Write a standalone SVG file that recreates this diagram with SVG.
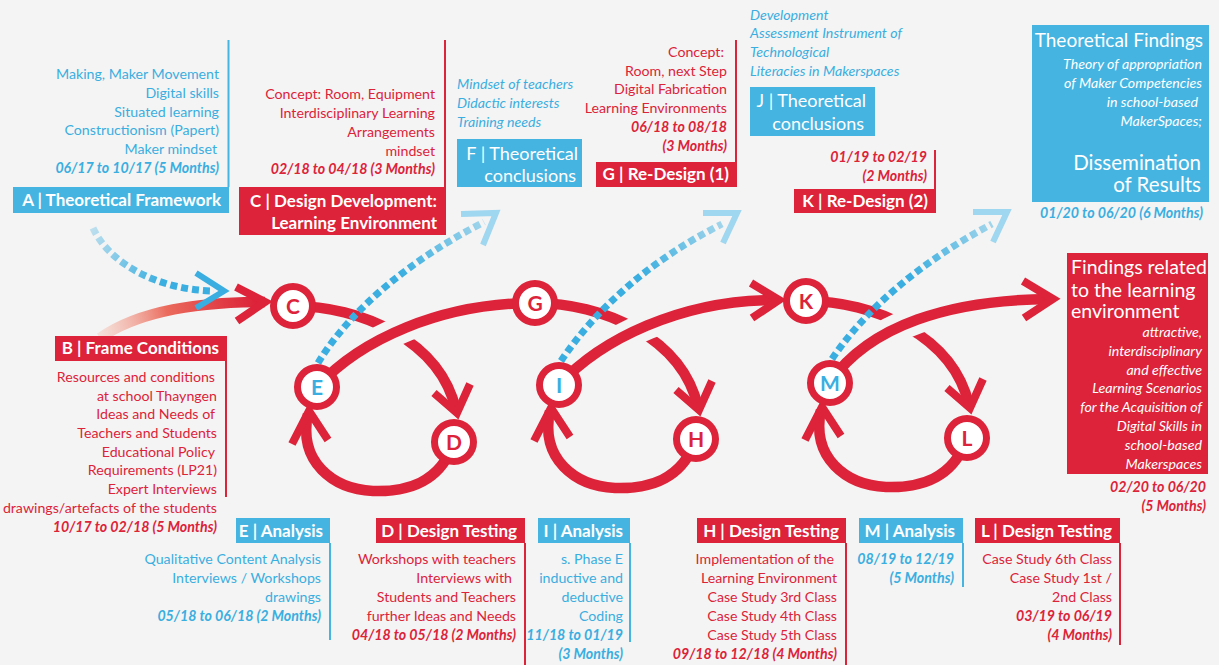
<svg xmlns="http://www.w3.org/2000/svg" width="1219" height="665" viewBox="0 0 1219 665">
  <defs>
    <style>
      text { font-family: Lato, "Open Sans", sans-serif; font-size: 14.2px; }
      .b { fill: #3aaee0; }
      .r { fill: #dc2339; }
      .i { font-style: italic; }
      .d { font-style: italic; font-weight: 700; }
      .e { text-anchor: end; }
      .hb { font-weight: 700; font-size: 17px; fill: #fff; }
      .hr { font-size: 18px; fill: #fff; }
      .w { fill: #fff; }
      .boxb { fill: #45b4e1; }
      .boxr { fill: #dc2339; }
      .vb { stroke: #45b4e1; stroke-width: 2; fill: none; }
      .vr { stroke: #dc2339; stroke-width: 2; fill: none; }
      .band { stroke: #dc2339; stroke-width: 10.5; fill: none; }
      .gap { stroke: #f4f4f4; stroke-width: 28; fill: none; }
      .chev { stroke: #dc2339; stroke-width: 8; fill: none; stroke-linejoin: miter; }
      .dots { stroke-width: 7; stroke-dasharray: 7 4; fill: none; }
      .bchev { stroke: #3aaee0; stroke-width: 6; fill: none; }
      .lchev { stroke: #9fd6f0; stroke-width: 6; fill: none; }
      .ring { fill: #fff; stroke: #dc2339; stroke-width: 7; }
      .lt { font-size: 21px; font-weight: 700; text-anchor: middle; }
    </style>
    <linearGradient id="fadeB" gradientUnits="userSpaceOnUse" x1="100" y1="338" x2="255" y2="302">
      <stop offset="0" stop-color="#f6c4b4" stop-opacity="0.4"/>
      <stop offset="0.45" stop-color="#ea6a5c"/>
      <stop offset="1" stop-color="#dc2339"/>
    </linearGradient>
    <linearGradient id="fadeA" gradientUnits="userSpaceOnUse" x1="93" y1="228" x2="160" y2="285">
      <stop offset="0" stop-color="#3aaee0" stop-opacity="0.3"/>
      <stop offset="1" stop-color="#3aaee0"/>
    </linearGradient>
    <linearGradient id="fadeE" gradientUnits="userSpaceOnUse" x1="318" y1="363" x2="484" y2="222">
      <stop offset="0" stop-color="#3aaee0"/>
      <stop offset="0.55" stop-color="#3aaee0"/>
      <stop offset="1" stop-color="#3aaee0" stop-opacity="0.45"/>
    </linearGradient>
    <linearGradient id="fadeI" gradientUnits="userSpaceOnUse" x1="561" y1="361" x2="722" y2="224">
      <stop offset="0" stop-color="#3aaee0"/>
      <stop offset="0.55" stop-color="#3aaee0"/>
      <stop offset="1" stop-color="#3aaee0" stop-opacity="0.45"/>
    </linearGradient>
    <linearGradient id="fadeM" gradientUnits="userSpaceOnUse" x1="832" y1="359" x2="992" y2="224">
      <stop offset="0" stop-color="#3aaee0"/>
      <stop offset="0.55" stop-color="#3aaee0"/>
      <stop offset="1" stop-color="#3aaee0" stop-opacity="0.45"/>
    </linearGradient>
  </defs>

  <rect width="1219" height="665" fill="#f4f4f4"/>

  <!-- connectors: red process loops and blue feedback arrows -->
  <g id="connectors">
    <!-- B into C -->
    <path d="M100 338 C140 310 200 302 265 302" stroke="url(#fadeB)" stroke-width="10.5" fill="none"/>
    <polyline class="chev" points="236,287 265,302 237,321"/>

    <!-- cycle 1: C -> D -> E -> G -->
    <path class="band" d="M293 306 C360 306 440 340 456 410"/>
    <polyline class="chev" points="434,393 457,413 470,384"/>
    <path class="band" d="M454 442 C440 484 405 492 373 491 C333 489 298 462 308 414"/>
    <polyline class="chev" points="292,444 309,411 328,440"/>
    <path class="gap" d="M317 387 C360 340 440 303 535 303"/>
    <path class="band" d="M317 387 C360 340 440 303 535 303"/>

    <!-- cycle 2: G -> H -> I -> K -->
    <path class="band" d="M535 303 C602 303 682 337 698 407"/>
    <polyline class="chev" points="676,390 699,410 712,381"/>
    <path class="band" d="M696 439 C682 481 647 489 615 488 C575 486 540 459 550 411"/>
    <polyline class="chev" points="534,441 551,408 570,437"/>
    <path class="gap" d="M559 385 C600 340 680 300 779 300"/>
    <path class="band" d="M559 385 C600 340 680 300 775 300"/>
    <polyline class="chev" points="751,283 779,300 752,318"/>

    <!-- cycle 3: K -> L -> M -> findings -->
    <path class="band" d="M806 301 C873 301 953 335 969 405"/>
    <polyline class="chev" points="947,388 970,408 983,379"/>
    <path class="band" d="M967 438 C953 480 918 488 886 487 C846 485 811 458 821 410"/>
    <polyline class="chev" points="805,440 822,407 841,436"/>
    <path class="gap" d="M830 382 C870 325 950 300 1053 299"/>
    <path class="band" d="M830 382 C870 325 950 300 1049 299"/>
    <polyline class="chev" points="1023,281 1053,299 1024,318"/>

    <!-- A into C (dashed) -->
    <path class="dots" stroke="url(#fadeA)" d="M93 228 C110 265 160 290 214 291"/>
    <polyline class="bchev" points="196,273 224,291 196,308"/>

    <!-- analysis feedback to theory (dashed, fading upwards) -->
    <path class="dots" stroke="url(#fadeE)" d="M318 363 C350 310 410 260 484 222"/>
    <polyline class="lchev" points="461,214 496,213 483,245"/>
    <path class="dots" stroke="url(#fadeI)" d="M561 361 C595 310 650 260 722 224"/>
    <polyline class="lchev" points="703,213 737,213 723,243"/>
    <path class="dots" stroke="url(#fadeM)" d="M832 359 C865 310 920 262 992 224"/>
    <polyline class="lchev" points="973,212 1007,212 993,242"/>
  </g>

  <!-- phase circles -->
  <g id="node-C"><circle class="ring" cx="293" cy="306" r="19.5"/><text class="lt r" x="293" y="314">C</text></g>
  <g id="node-G"><circle class="ring" cx="535" cy="303" r="19.5"/><text class="lt r" x="535" y="311">G</text></g>
  <g id="node-K"><circle class="ring" cx="806" cy="301" r="19.5"/><text class="lt r" x="806" y="309">K</text></g>
  <g id="node-D"><circle class="ring" cx="454" cy="442" r="19.5"/><text class="lt r" x="454" y="450">D</text></g>
  <g id="node-H"><circle class="ring" cx="696" cy="439" r="19.5"/><text class="lt r" x="696" y="447">H</text></g>
  <g id="node-L"><circle class="ring" cx="967" cy="438" r="19.5"/><text class="lt r" x="967" y="446">L</text></g>
  <g id="node-E"><circle class="ring" cx="317" cy="387" r="19.5"/><text class="lt b" x="317" y="395">E</text></g>
  <g id="node-I"><circle class="ring" cx="559" cy="385" r="19.5"/><text class="lt b" x="559" y="393">I</text></g>
  <g id="node-M"><circle class="ring" cx="830" cy="383" r="19.5"/><text class="lt b" x="830" y="391">M</text></g>

  <!-- A: theoretical framework -->
  <g id="phase-A">
    <line class="vb" x1="228.5" y1="40" x2="228.5" y2="187"/>
    <text class="b e" x="219" y="79">Making, Maker Movement</text>
    <text class="b e" x="219" y="98">Digital skills</text>
    <text class="b e" x="219" y="117">Situated learning</text>
    <text class="b e" x="219" y="135">Constructionism (Papert)</text>
    <text class="b e" x="217" y="154">Maker mindset</text>
    <text class="b d e" x="219" y="173">06/17 to 10/17 (5 Months)</text>
    <rect class="boxb" x="13" y="187" width="216" height="26"/>
    <text class="hb e" x="221" y="206">A | Theoretical Framework</text>
  </g>

  <!-- C: design development -->
  <g id="phase-C">
    <line class="vr" x1="445" y1="40" x2="445" y2="187"/>
    <text class="r e" x="435" y="99">Concept: Room, Equipment</text>
    <text class="r e" x="435" y="118">Interdisciplinary Learning</text>
    <text class="r e" x="435" y="137">Arrangements</text>
    <text class="r e" x="435" y="156">mindset</text>
    <text class="r d e" x="435" y="174">02/18 to 04/18 (3 Months)</text>
    <rect class="boxr" x="239" y="187" width="207" height="48"/>
    <text class="hb e" x="437" y="207">C | Design Development:</text>
    <text class="hb e" x="437" y="229">Learning Environment</text>
  </g>

  <!-- F: theoretical conclusions -->
  <g id="phase-F">
    <text class="b i" x="457" y="89">Mindset of teachers</text>
    <text class="b i" x="457" y="108">Didactic interests</text>
    <text class="b i" x="457" y="127">Training needs</text>
    <rect class="boxb" x="457" y="139" width="125" height="48"/>
    <text class="hr e" x="578" y="160">F | Theoretical</text>
    <text class="hr e" x="576" y="182">conclusions</text>
  </g>

  <!-- G: re-design 1 -->
  <g id="phase-G">
    <line class="vr" x1="736" y1="40" x2="736" y2="162"/>
    <text class="r e" x="724" y="57">Concept:</text>
    <text class="r e" x="727" y="76">Room, next Step</text>
    <text class="r e" x="727" y="94">Digital Fabrication</text>
    <text class="r e" x="727" y="113">Learning Environments</text>
    <text class="r d e" x="727" y="132">06/18 to 08/18</text>
    <text class="r d e" x="727" y="151">(3 Months)</text>
    <rect class="boxr" x="596" y="162" width="141" height="25"/>
    <text class="hb e" x="729" y="180">G | Re-Design (1)</text>
  </g>

  <!-- J: theoretical conclusions -->
  <g id="phase-J">
    <text class="b i" x="750" y="20">Development</text>
    <text class="b i" x="750" y="38">Assessment Instrument of</text>
    <text class="b i" x="750" y="57">Technological</text>
    <text class="b i" x="750" y="76">Literacies in Makerspaces</text>
    <rect class="boxb" x="750" y="87" width="125" height="49"/>
    <text class="hr e" x="866" y="107">J | Theoretical</text>
    <text class="hr e" x="864" y="130">conclusions</text>
  </g>

  <!-- K: re-design 2 -->
  <g id="phase-K">
    <line class="vr" x1="935" y1="150" x2="935" y2="189"/>
    <text class="r d e" x="927" y="162">01/19 to 02/19</text>
    <text class="r d e" x="927" y="181">(2 Months)</text>
    <rect class="boxr" x="794" y="189" width="142" height="24"/>
    <text class="hb e" x="928" y="207">K | Re-Design (2)</text>
  </g>

  <!-- theoretical findings and dissemination -->
  <g id="phase-findings-theory">
    <rect class="boxb" x="1032" y="25" width="177" height="177"/>
    <text class="w e" x="1203" y="47" style="font-size:19px">Theoretical Findings</text>
    <text class="w i e" x="1202" y="69">Theory of appropriation</text>
    <text class="w i e" x="1202" y="88">of Maker Competencies</text>
    <text class="w i e" x="1198" y="107">in school-based</text>
    <text class="w i e" x="1202" y="126">MakerSpaces;</text>
    <text class="w e" x="1201" y="170" style="font-size:20.5px">Dissemination</text>
    <text class="w e" x="1201" y="192" style="font-size:20.5px">of Results</text>
    <text class="b d e" x="1203" y="218">01/20 to 06/20 (6 Months)</text>
  </g>

  <!-- findings related to the learning environment -->
  <g id="phase-findings-environment">
    <rect class="boxr" x="1067" y="253" width="141" height="221"/>
    <text class="w" x="1071" y="274" style="font-size:19.5px">Findings related</text>
    <text class="w" x="1071" y="297" style="font-size:19.5px">to the learning</text>
    <text class="w" x="1071" y="318" style="font-size:19.5px">environment</text>
    <text class="w i e" x="1202" y="337">attractive,</text>
    <text class="w i e" x="1202" y="356">interdisciplinary</text>
    <text class="w i e" x="1202" y="375">and effective</text>
    <text class="w i e" x="1202" y="393">Learning Scenarios</text>
    <text class="w i e" x="1202" y="412">for the Acquisition of</text>
    <text class="w i e" x="1202" y="431">Digital Skills in</text>
    <text class="w i e" x="1202" y="450">school-based</text>
    <text class="w i e" x="1202" y="469">Makerspaces</text>
    <text class="r d e" x="1206" y="492">02/20 to 06/20</text>
    <text class="r d e" x="1206" y="511">(5 Months)</text>
  </g>

  <!-- B: frame conditions -->
  <g id="phase-B">
    <rect class="boxr" x="55" y="336" width="172" height="25"/>
    <text class="hb e" x="219" y="354">B | Frame Conditions</text>
    <line class="vr" x1="226" y1="361" x2="226" y2="497"/>
    <text class="r e" x="215" y="382">Resources and conditions</text>
    <text class="r e" x="217" y="401">at school Thayngen</text>
    <text class="r e" x="215" y="419">Ideas and Needs of</text>
    <text class="r e" x="217" y="438">Teachers and Students</text>
    <text class="r e" x="215" y="457">Educational Policy</text>
    <text class="r e" x="217" y="475">Requirements (LP21)</text>
    <text class="r e" x="217" y="494">Expert Interviews</text>
    <text class="r e" x="217" y="513">drawings/artefacts of the students</text>
    <text class="r d e" x="217" y="532">10/17 to 02/18 (5 Months)</text>
  </g>

  <!-- E: analysis -->
  <g id="phase-E">
    <rect class="boxb" x="236" y="518" width="94" height="25"/>
    <text class="hb e" x="323" y="537">E | Analysis</text>
    <line class="vb" x1="330" y1="543" x2="330" y2="640"/>
    <text class="b e" x="321" y="564">Qualitative Content Analysis</text>
    <text class="b e" x="321" y="583">Interviews / Workshops</text>
    <text class="b e" x="321" y="602">drawings</text>
    <text class="b d e" x="321" y="621">05/18 to 06/18 (2 Months)</text>
  </g>

  <!-- D: design testing -->
  <g id="phase-D">
    <rect class="boxr" x="376" y="518" width="149" height="25"/>
    <text class="hb e" x="517" y="537">D | Design Testing</text>
    <line class="vr" x1="525" y1="543" x2="525" y2="665"/>
    <text class="r e" x="516" y="564">Workshops with teachers</text>
    <text class="r e" x="512" y="583">Interviews with</text>
    <text class="r e" x="516" y="602">Students and Teachers</text>
    <text class="r e" x="516" y="621">further Ideas and Needs</text>
    <text class="r d e" x="516" y="640">04/18 to 05/18 (2 Months)</text>
  </g>

  <!-- I: analysis -->
  <g id="phase-I">
    <rect class="boxb" x="538" y="518" width="92" height="25"/>
    <text class="hb e" x="623" y="537">I | Analysis</text>
    <line class="vb" x1="630" y1="543" x2="630" y2="642"/>
    <text class="b e" x="623" y="564">s. Phase E</text>
    <text class="b e" x="623" y="583">inductive and</text>
    <text class="b e" x="623" y="602">deductive</text>
    <text class="b e" x="623" y="621">Coding</text>
    <text class="b d e" x="623" y="640">11/18 to 01/19</text>
    <text class="b d e" x="623" y="659">(3 Months)</text>
  </g>

  <!-- H: design testing -->
  <g id="phase-H">
    <rect class="boxr" x="697" y="518" width="149" height="25"/>
    <text class="hb e" x="839" y="537">H | Design Testing</text>
    <line class="vr" x1="846" y1="543" x2="846" y2="665"/>
    <text class="r e" x="834" y="564">Implementation of the</text>
    <text class="r e" x="837" y="583">Learning Environment</text>
    <text class="r e" x="837" y="602">Case Study 3rd Class</text>
    <text class="r e" x="837" y="621">Case Study 4th Class</text>
    <text class="r e" x="837" y="640">Case Study 5th Class</text>
    <text class="r d e" x="837" y="659">09/18 to 12/18 (4 Months)</text>
  </g>

  <!-- M: analysis -->
  <g id="phase-M">
    <rect class="boxb" x="859" y="518" width="104" height="25"/>
    <text class="hb e" x="955" y="537">M | Analysis</text>
    <line class="vb" x1="963" y1="543" x2="963" y2="587"/>
    <text class="b d e" x="954" y="564">08/19 to 12/19</text>
    <text class="b d e" x="954" y="583">(5 Months)</text>
  </g>

  <!-- L: design testing -->
  <g id="phase-L">
    <rect class="boxr" x="975" y="518" width="145" height="25"/>
    <text class="hb e" x="1112" y="537">L | Design Testing</text>
    <line class="vr" x1="1120" y1="543" x2="1120" y2="645"/>
    <text class="r e" x="1112" y="564">Case Study 6th Class</text>
    <text class="r e" x="1112" y="583">Case Study 1st /</text>
    <text class="r e" x="1112" y="602">2nd Class</text>
    <text class="r d e" x="1112" y="621">03/19 to 06/19</text>
    <text class="r d e" x="1112" y="640">(4 Months)</text>
  </g>
</svg>
